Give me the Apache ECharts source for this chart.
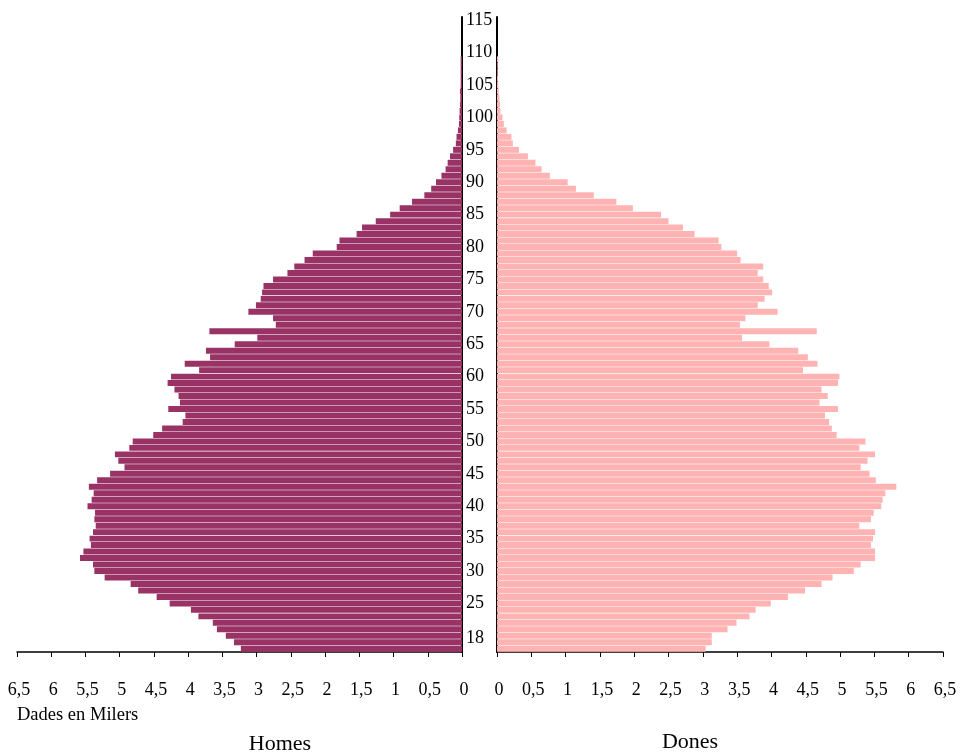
<!DOCTYPE html>
<html>
<head>
<meta charset="utf-8">
<script src="https://cdn.jsdelivr.net/npm/echarts@6/dist/echarts.min.js"></script>
<style>
html,body{margin:0;padding:0;background:#fff;}
#chart{width:962px;height:753px;}
</style>
</head>
<body>
<div id="chart"></div>
<script>
// Ages (category axis, bottom to top)
const ages = [];
for (let a = 18; a <= 115; a++) ages.push(String(a));

// Homes (thousands), ages 18..115
const homes = [
  3.23, 3.33, 3.45, 3.58, 3.64, 3.85, 3.96, 4.27, 4.46, 4.73, // 18-27
  4.84, 5.22, 5.37, 5.39, 5.58, 5.53, 5.42, 5.44, 5.39, 5.35, // 28-37
  5.37, 5.36, 5.47, 5.41, 5.38, 5.45, 5.33, 5.14, 4.93, 5.02, // 38-47
  5.07, 4.86, 4.81, 4.51, 4.38, 4.08, 4.04, 4.29, 4.12, 4.14, // 48-57
  4.20, 4.30, 4.25, 3.84, 4.05, 3.68, 3.74, 3.32, 2.99, 3.69, // 58-67
  2.72, 2.76, 3.12, 3.01, 2.94, 2.92, 2.90, 2.76, 2.55, 2.45, // 68-77
  2.30, 2.18, 1.83, 1.79, 1.54, 1.46, 1.26, 1.05, 0.91, 0.73, // 78-87
  0.55, 0.45, 0.38, 0.30, 0.24, 0.21, 0.175, 0.13, 0.09, 0.08, // 88-97
  0.06, 0.045, 0.04, 0.035, 0.03, 0.025, 0.03, 0.02, 0.02, 0.02, // 98-107
  0.02, 0.02, 0, 0, 0, 0, 0, 0                                   // 108-115
];

// Dones (thousands), ages 18..115
const dones = [
  3.04, 3.13, 3.13, 3.36, 3.49, 3.68, 3.77, 3.99, 4.24, 4.49, // 18-27
  4.73, 4.89, 5.20, 5.30, 5.51, 5.51, 5.45, 5.48, 5.51, 5.28, // 28-37
  5.45, 5.49, 5.60, 5.62, 5.66, 5.82, 5.52, 5.43, 5.30, 5.40, // 38-47
  5.51, 5.28, 5.37, 4.95, 4.88, 4.84, 4.78, 4.97, 4.70, 4.82, // 48-57
  4.73, 4.97, 4.99, 4.46, 4.67, 4.53, 4.39, 3.97, 3.57, 4.66, // 58-67
  3.54, 3.62, 4.09, 3.80, 3.90, 4.01, 3.96, 3.88, 3.80, 3.88, // 68-77
  3.55, 3.50, 3.27, 3.23, 2.88, 2.71, 2.50, 2.39, 1.98, 1.74, // 78-87
  1.41, 1.15, 1.03, 0.77, 0.65, 0.56, 0.45, 0.32, 0.23, 0.21, // 88-97
  0.14, 0.10, 0.08, 0.05, 0.045, 0.035, 0.025, 0.02, 0.015, 0.01, // 98-107
  0.01, 0.02, 0, 0, 0, 0, 0, 0                                   // 108-115
];

const font = '"Liberation Serif", "Times New Roman", serif';
const fmtNum = v => String(v).replace('.', ',');

const chart = echarts.init(document.getElementById('chart'), null, {renderer: 'canvas'});

const xAxisBase = {
  type: 'value', min: 0, max: 6.5, interval: 0.5,
  axisLine: {show: true, onZero: false, lineStyle: {color: '#000', width: 1.5}},
  axisTick: {show: true, length: 5, lineStyle: {color: '#000', width: 1}},
  splitLine: {show: false},
  axisLabel: {formatter: fmtNum, fontFamily: font, fontSize: 18, color: '#000', margin: 29, padding: [0, 0, 0, 4]}
};

chart.setOption({
  animation: false,
  backgroundColor: '#fff',
  grid: [
    {left: 17, right: 500, top: 17, bottom: 101, containLabel: false},
    {left: 497, right: 19, top: 17, bottom: 101, containLabel: false}
  ],
  xAxis: [
    Object.assign({}, xAxisBase, {gridIndex: 0, inverse: true}),
    Object.assign({}, xAxisBase, {gridIndex: 1})
  ],
  yAxis: [
    {
      gridIndex: 0, type: 'category', data: ages, position: 'right',
      axisLine: {show: true, lineStyle: {color: '#000', width: 2}},
      axisTick: {show: false},
      splitLine: {show: false},
      axisLabel: {
        interval: 0, margin: 4, align: 'left', color: '#000',
        fontFamily: font, fontSize: 18,
        formatter: function (v) {
          const n = Number(v);
          if (n === 18) return '{up|18}';
          if (n >= 25 && n % 5 === 0) return v;
          return '';
        },
        rich: {up: {fontFamily: font, fontSize: 18, color: '#000', padding: [0, 0, 20, 0]}}
      }
    },
    {
      gridIndex: 1, type: 'category', data: ages, position: 'left',
      axisLine: {show: true, lineStyle: {color: '#000', width: 2}},
      axisTick: {show: false},
      axisLabel: {show: false},
      splitLine: {show: false}
    }
  ],
  series: [
    {
      name: 'Homes', type: 'bar', xAxisIndex: 0, yAxisIndex: 0,
      data: homes, barCategoryGap: '8%',
      itemStyle: {color: '#993366'}
    },
    {
      name: 'Dones', type: 'bar', xAxisIndex: 1, yAxisIndex: 1,
      data: dones, barCategoryGap: '8%',
      itemStyle: {color: '#FFB3B3'}
    }
  ],
  graphic: [
    {type: 'text', left: 17, top: 706, style: {text: 'Dades en Milers', font: '18.5px ' + font, fill: '#000'}},
    {type: 'text', x: 280, y: 744, style: {text: 'Homes', font: '22px ' + font, fill: '#000', align: 'center', verticalAlign: 'middle'}},
    {type: 'text', x: 690, y: 742, style: {text: 'Dones', font: '22px ' + font, fill: '#000', align: 'center', verticalAlign: 'middle'}}
  ]
});
</script>
</body>
</html>
